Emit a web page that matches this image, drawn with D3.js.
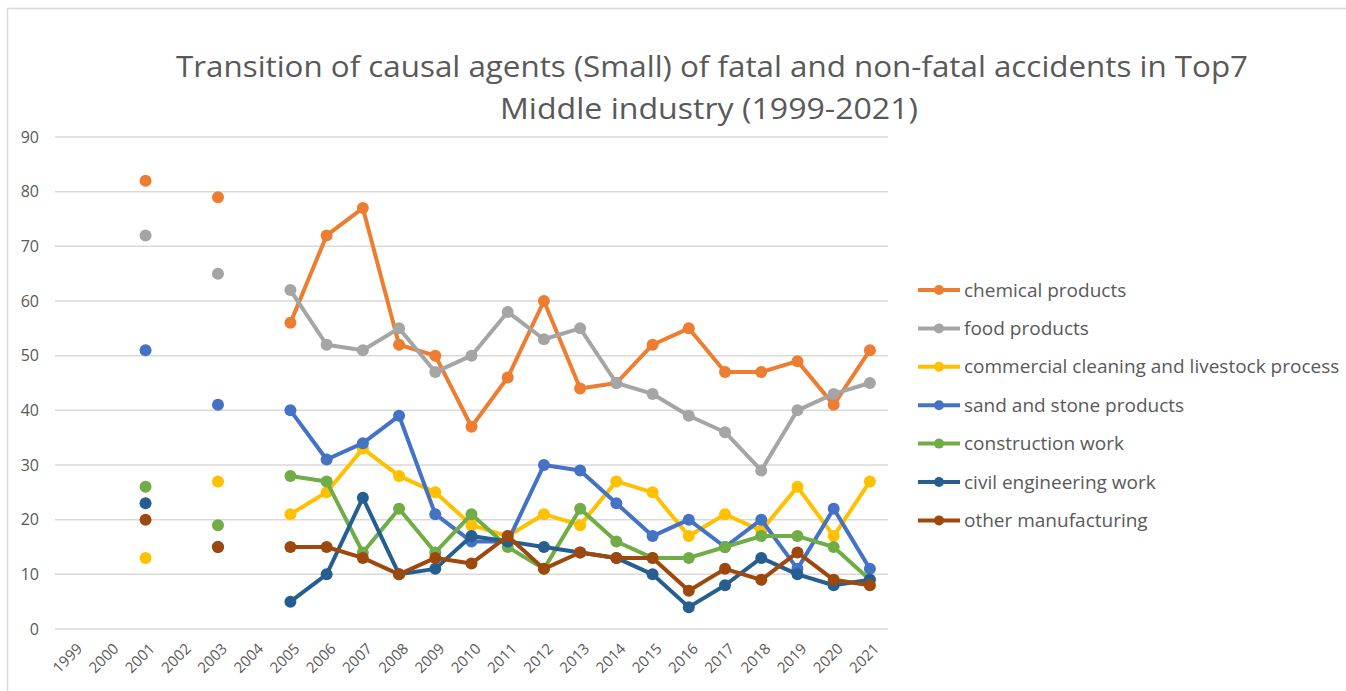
<!DOCTYPE html>
<html>
<head>
<meta charset="utf-8">
<script src="https://cdn.jsdelivr.net/npm/d3@7"></script>
<style>
  body { margin: 0; background: #fff; }
  svg { display: block; font-family: "Open Sans", "Noto Sans", sans-serif; }
</style>
</head>
<body>
<div id="chart"></div>
<script>
// data (null = no value that year)
const years = ["1999","2000","2001","2002","2003","2004","2005","2006","2007","2008","2009","2010","2011","2012","2013","2014","2015","2016","2017","2018","2019","2020","2021"];
const chemical  = [null,null,82,null,79,null,56,72,77,52,50,37,46,60,44,45,52,55,47,47,49,41,51];
const food      = [null,null,72,null,65,null,62,52,51,55,47,50,58,53,55,45,43,39,36,29,40,43,45];
const cleaning  = [null,null,13,null,27,null,21,25,33,28,25,19,17,21,19,27,25,17,21,18,26,17,27];
const sand      = [null,null,51,null,41,null,40,31,34,39,21,16,16,30,29,23,17,20,15,20,11,22,11];
const construct = [null,null,26,null,19,null,28,27,14,22,14,21,15,11,22,16,13,13,15,17,17,15,9];
const civil     = [null,null,23,null,15,null,5,10,24,10,11,17,16,15,14,13,10,4,8,13,10,8,9];
const other     = [null,null,20,null,15,null,15,15,13,10,13,12,17,11,14,13,13,7,11,9,14,9,8];
const seriesNames = ["chemical products","food products","commercial cleaning and livestock process","sand and stone products","construction work","civil engineering work","other manufacturing"];
const seriesColors = ["#ED7D31","#A5A5A5","#FFC000","#4472C4","#70AD47","#255E91","#9E480E"];
const yTicks = [0,10,20,30,40,50,60,70,80,90];

const allSeries = [chemical, food, cleaning, sand, construct, civil, other];

const WIDTH = 1346, HEIGHT = 691;
const PLOT = {left: 55, right: 888, top: 137, bottom: 629};

const svg = d3.select("#chart").append("svg")
  .attr("width", WIDTH)
  .attr("height", HEIGHT);

// chart border
svg.append("rect")
  .attr("x", 7.5).attr("y", 8.5)
  .attr("width", WIDTH + 10).attr("height", HEIGHT + 10)
  .attr("fill", "none")
  .attr("stroke", "#d9d9d9")
  .attr("stroke-width", 1.5);

const X = d3.scalePoint().domain(years).range([PLOT.left, PLOT.right]).padding(0.5);
const Y = d3.scaleLinear().domain([0, 90]).range([PLOT.bottom, PLOT.top]);

// gridlines
svg.append("g")
  .selectAll("line")
  .data(yTicks)
  .enter().append("line")
  .attr("x1", PLOT.left).attr("x2", PLOT.right)
  .attr("y1", d => Y(d)).attr("y2", d => Y(d))
  .attr("stroke", "#d9d9d9")
  .attr("stroke-width", 1.5);

// y axis labels
const yAxis = svg.append("g")
  .attr("transform", "translate(" + (PLOT.left - 16) + ",0)")
  .call(d3.axisLeft(Y).tickValues(yTicks).tickSize(0).tickPadding(0));
yAxis.select(".domain").remove();
yAxis.selectAll("text").attr("fill", "#595959").attr("font-size", "16px")
  .attr("font-family", "Open Sans, sans-serif");

// x axis labels, rotated
const xAxis = svg.append("g")
  .attr("transform", "translate(0," + PLOT.bottom + ")")
  .call(d3.axisBottom(X).tickSize(0).tickPadding(0));
xAxis.select(".domain").remove();
xAxis.selectAll("text")
  .attr("fill", "#595959")
  .attr("font-size", "15px")
  .attr("font-family", "Open Sans, sans-serif")
  .attr("text-anchor", "end")
  .attr("dy", "0.35em")
  .attr("transform", "translate(6,17) rotate(-45)");

// series lines + markers
const line = d3.line()
  .defined(d => d.v != null)
  .x(d => X(d.year))
  .y(d => Y(d.v));

allSeries.forEach((vals, i) => {
  const pts = years.map((yr, j) => ({year: yr, v: vals[j]}));
  const g = svg.append("g");
  g.append("path")
    .datum(pts)
    .attr("d", line)
    .attr("fill", "none")
    .attr("stroke", seriesColors[i])
    .attr("stroke-width", 4)
    .attr("stroke-linejoin", "round");
  g.selectAll("circle")
    .data(pts.filter(d => d.v != null))
    .enter().append("circle")
    .attr("cx", d => X(d.year))
    .attr("cy", d => Y(d.v))
    .attr("r", 6)
    .attr("fill", seriesColors[i]);
});

// title
const title = svg.append("text")
  .attr("text-anchor", "middle")
  .attr("fill", "#595959")
  .attr("font-size", "30px")
  .attr("font-family", "Open Sans, sans-serif");
title.append("tspan").attr("x", 712).attr("y", 77)
  .attr("textLength", 1072).attr("lengthAdjust", "spacingAndGlyphs")
  .text("Transition of causal agents (Small) of fatal and non-fatal accidents in Top7");
title.append("tspan").attr("x", 709).attr("y", 119)
  .attr("textLength", 418).attr("lengthAdjust", "spacingAndGlyphs")
  .text("Middle industry (1999-2021)");

// legend
const legend = svg.append("g").attr("transform", "translate(918,290)");
seriesNames.forEach((name, i) => {
  const row = legend.append("g").attr("transform", "translate(0," + (i * 38.4) + ")");
  row.append("line")
    .attr("x1", 0).attr("x2", 42).attr("y1", 0).attr("y2", 0)
    .attr("stroke", seriesColors[i]).attr("stroke-width", 4);
  row.append("circle").attr("cx", 21).attr("cy", 0).attr("r", 5).attr("fill", seriesColors[i]);
  row.append("text")
    .attr("x", 46).attr("y", 0).attr("dy", "0.35em")
    .attr("fill", "#595959")
    .attr("font-size", "19px")
    .text(name);
});
</script>
</body>
</html>
